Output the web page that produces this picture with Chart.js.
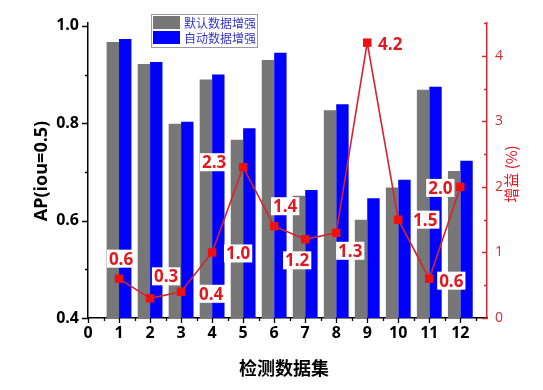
<!DOCTYPE html>
<html>
<head>
<meta charset="utf-8">
<script src="https://cdn.jsdelivr.net/npm/chart.js@4"></script>
<style>
  html, body { margin: 0; padding: 0; background: #fff; }
  #wrap { width: 543px; height: 390px; }
</style>
</head>
<body>
<div id="wrap"><canvas id="c" width="543" height="390"></canvas></div>
<script>
// data
const datasetIds = [1, 2, 3, 4, 5, 6, 7, 8, 9, 10, 11, 12];
const apDefault = [0.967, 0.922, 0.799, 0.890, 0.766, 0.930, 0.651, 0.827, 0.602, 0.668, 0.869, 0.702];
const apAuto = [0.973, 0.926, 0.803, 0.900, 0.790, 0.945, 0.663, 0.839, 0.646, 0.684, 0.875, 0.723];
const gains = [0.6, 0.3, 0.4, 1.0, 2.3, 1.4, 1.2, 1.3, 4.2, 1.5, 0.6, 2.0];
const xTicks = [0, 1, 2, 3, 4, 5, 6, 7, 8, 9, 10, 11, 12];
const apTicks = [0.4, 0.6, 0.8, 1.0];
const gainTicks = [0, 1, 2, 3, 4];

const seriesNames = ['默认数据增强', '自动数据增强'];

// label placement (px offset from the point)
const labelOffsets = [[2,-20],[16,-22],[30,2],[26,1],[-29,-5],[11,-20],[-8,21],[14,18],[23,1],[27,0],[22,2],[-20,1]];

const RED = '#e2181f';
const AXIS_RED = '#d42a30';
const FONT = '"Open Sans", "Noto Sans", sans-serif';
const CJK = '"Noto Sans CJK SC", "Noto Sans", sans-serif';

const decor = {
  id: 'decor',
  afterDatasetsDraw(chart){
    const {ctx, chartArea: a, scales} = chart;
    const x = scales.x, y = scales.y, y2 = scales.y2;
    ctx.save();
    // tick marks
    ctx.lineWidth = 1.3;
    ctx.strokeStyle = '#000';
    ctx.beginPath();
    for(let v = 0; v <= 12.5; v += 0.5){
      const px = Math.round(x.getPixelForValue(v)) + 0.5;
      const len = Number.isInteger(v) ? 5 : 3;
      ctx.moveTo(px, a.bottom); ctx.lineTo(px, a.bottom + len);
    }
    for(let k = 4; k <= 10; k++){
      const py = Math.round(y.getPixelForValue(k / 10)) + 0.5;
      const len = k % 2 === 0 ? 6 : 3;
      ctx.moveTo(a.left, py); ctx.lineTo(a.left - len, py);
    }
    ctx.stroke();
    ctx.strokeStyle = AXIS_RED;
    ctx.beginPath();
    for(let v = 0; v <= 4.5; v += 0.5){
      const py = Math.round(y2.getPixelForValue(v)) + 0.5;
      const len = Number.isInteger(v) ? 5 : 3;
      ctx.moveTo(a.right, py); ctx.lineTo(a.right - len, py);
    }
    ctx.stroke();

    // value labels
    const meta = chart.getDatasetMeta(2);
    ctx.font = 'bold 17px ' + FONT;
    ctx.textAlign = 'center';
    ctx.textBaseline = 'middle';
    meta.data.forEach((pt, i) => {
      const txt = gains[i].toFixed(1);
      const cx = pt.x + labelOffsets[i][0];
      const cy = pt.y + labelOffsets[i][1];
      const w = ctx.measureText(txt).width + 4;
      ctx.fillStyle = '#fff';
      ctx.fillRect(cx - w / 2, cy - 9, w, 18);
      ctx.fillStyle = RED;
      ctx.fillText(txt, cx, cy + 1);
    });

    // legend
    ctx.strokeStyle = '#9a9a9a';
    ctx.lineWidth = 1;
    ctx.strokeRect(151.5, 14.5, 106, 33);
    const sw = [chart.data.datasets[0].backgroundColor, chart.data.datasets[1].backgroundColor];
    ctx.font = '12px ' + CJK;
    ctx.textAlign = 'left';
    seriesNames.forEach((n, i) => {
      const top = 16 + i * 15;
      ctx.fillStyle = sw[i];
      ctx.fillRect(153, top, 27, 13);
      ctx.fillStyle = '#3535c8';
      ctx.fillText(n, 184, top + 7);
    });

    // axis titles
    ctx.fillStyle = '#000';
    ctx.font = 'bold 18px ' + CJK;
    ctx.textAlign = 'center';
    ctx.fillText('检测数据集', 284, 368);

    ctx.save();
    ctx.translate(42, 171);
    ctx.rotate(-Math.PI / 2);
    ctx.font = 'bold 18px ' + FONT;
    ctx.fillText('AP(iou=0.5)', 0, 0);
    ctx.restore();

    ctx.save();
    ctx.translate(511, 174);
    ctx.rotate(-Math.PI / 2);
    ctx.fillStyle = RED;
    ctx.font = '15px ' + CJK;
    ctx.fillText('增益 (%)', 0, 0);
    ctx.restore();

    ctx.restore();
  }
};

new Chart(document.getElementById('c'), {
  type: 'bar',
  data: {
    datasets: [
      { label: seriesNames[0], data: datasetIds.map((d, i) => ({x: d, y: apDefault[i]})),
        backgroundColor: '#777777', borderWidth: 0, yAxisID: 'y', order: 2,
        categoryPercentage: 0.8, barPercentage: 1.0 },
      { label: seriesNames[1], data: datasetIds.map((d, i) => ({x: d, y: apAuto[i]})),
        backgroundColor: '#0000ff', borderWidth: 0, yAxisID: 'y', order: 2,
        categoryPercentage: 0.8, barPercentage: 1.0 },
      { type: 'line', label: '增益', data: datasetIds.map((d, i) => ({x: d, y: gains[i]})),
        yAxisID: 'y2', order: 0, borderColor: '#d8232c', borderWidth: 1.6,
        pointStyle: 'rect', pointRadius: 6, pointBackgroundColor: '#f01010',
        pointBorderColor: '#f01010', pointBorderWidth: 0, tension: 0 }
    ]
  },
  options: {
    responsive: false,
    animation: false,
    events: [],
    layout: { padding: { top: 23, left: 0, right: 0, bottom: 0 } },
    plugins: { legend: { display: false }, tooltip: { enabled: false } },
    scales: {
      x: {
        type: 'linear', min: 0, max: 12.86, offset: false,
        afterBuildTicks: s => { s.ticks = xTicks.map(v => ({value: v})); },
        afterFit: s => { s.height = 72; },
        grid: { display: false, drawTicks: false, offset: false },
        border: { display: true, color: '#000', width: 1.5 },
        ticks: { color: '#000', font: { family: FONT, size: 16, weight: 'bold' }, padding: 6,
                 maxRotation: 0, autoSkip: false }
      },
      y: {
        position: 'left', min: 0.4, max: 1.006,
        afterBuildTicks: s => { s.ticks = apTicks.map(v => ({value: v})); },
        afterFit: s => { s.width = 88; },
        grid: { display: false, drawTicks: false },
        border: { display: true, color: '#000', width: 1.5 },
        ticks: { color: '#000', font: { family: FONT, size: 16, weight: 'bold' }, padding: 9,
                 callback: v => v.toFixed(1) }
      },
      y2: {
        position: 'right', min: 0, max: 4.5,
        afterBuildTicks: s => { s.ticks = gainTicks.map(v => ({value: v})); },
        afterFit: s => { s.width = 56; },
        grid: { display: false, drawTicks: false },
        border: { display: true, color: AXIS_RED, width: 1.5 },
        ticks: { color: AXIS_RED, font: { family: FONT, size: 14 }, padding: 8 }
      }
    }
  },
  plugins: [decor]
});
</script>
</body>
</html>
